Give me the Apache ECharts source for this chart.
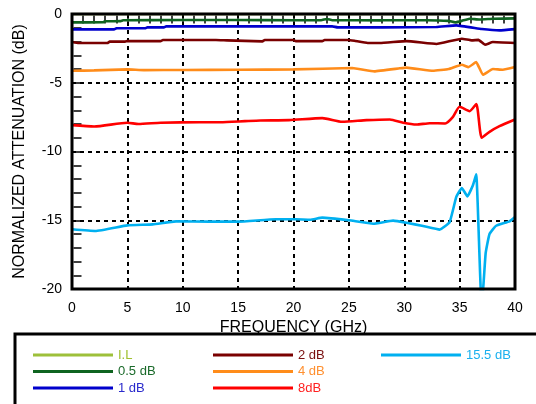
<!DOCTYPE html>
<html>
<head>
<meta charset="utf-8">
<script src="https://cdn.jsdelivr.net/npm/echarts@6/dist/echarts.min.js"></script>
<style>html,body{margin:0;padding:0;background:#fff}#c{width:536px;height:404px}</style>
</head>
<body>
<div id="c"></div>
<script>
const xTicks = [0, 5, 10, 15, 20, 25, 30, 35, 40];
const yTicks = [0, -5, -10, -15, -20];
const seriesNames = ['I.L', '0.5 dB', '1 dB', '2 dB', '4 dB', '8dB', '15.5 dB'];

const fIL = [0, 10, 20, 30, 40];
const vIL = [0, 0, 0, 0, 0];

const f05 = [0, 2.8, 3.0, 4.4, 4.6, 10, 15, 20, 22.5, 23, 23.5, 28, 32, 34, 34.6, 35.2, 35.9, 36.8, 38, 40];
const v05 = [-0.61, -0.6, -0.53, -0.52, -0.46, -0.44, -0.44, -0.45, -0.45, -0.36, -0.45, -0.46, -0.45, -0.5, -0.61, -0.5, -0.34, -0.4, -0.35, -0.32];

const f1 = [0, 3.8, 4.0, 6.6, 6.8, 8.3, 8.5, 15, 20, 23.5, 24, 28, 32.9, 34.7, 37, 38.6, 40];
const v1 = [-1.12, -1.12, -1.04, -1.04, -0.97, -0.97, -0.9, -0.9, -0.9, -0.9, -0.97, -0.97, -0.95, -0.83, -1.09, -1.19, -1.1];

const f2 = [0, 0.6, 3.2, 3.4, 4.8, 5.0, 8, 8.2, 13, 14, 17.2, 17.4, 20, 20.2, 22.6, 22.8, 24.9, 25.5, 26.7, 27.8, 30.2, 32.9, 35.2, 36.1, 36.7, 37.3, 38, 40];
const v2 = [-2.04, -2.11, -2.11, -2.01, -2.01, -1.97, -1.97, -1.89, -1.89, -1.92, -1.99, -1.89, -1.89, -1.97, -1.97, -1.89, -1.89, -1.95, -2.11, -2.11, -1.97, -2.18, -1.8, -1.92, -1.88, -2.23, -2.04, -2.11];

const f4 = [0, 2, 5, 6.5, 10, 15, 20, 25.3, 27.3, 29.6, 30.2, 32.6, 34, 35.2, 35.8, 36.5, 37.1, 38, 38.9, 40];
const v4 = [-4.13, -4.1, -4.03, -4.08, -4.07, -4.06, -4.03, -3.93, -4.17, -3.95, -3.9, -4.13, -4.0, -3.69, -3.86, -3.5, -4.42, -4.0, -4.05, -3.85];

const f8 = [0, 2, 5, 6, 8, 11.5, 13.4, 15.6, 17, 19.6, 22.6, 24.4, 26.6, 28.7, 29.9, 31.1, 32.3, 33.7, 34.4, 35, 35.9, 36.5, 37, 37.7, 38.6, 40];
const v8 = [-8.08, -8.18, -7.91, -8.0, -7.91, -7.87, -7.87, -7.79, -7.74, -7.72, -7.57, -7.84, -7.72, -7.67, -7.91, -8.04, -7.94, -7.96, -7.48, -6.75, -7.07, -6.55, -9.0, -8.57, -8.16, -7.67];

const f155 = [0, 2.1, 5, 7.3, 9.4, 12.4, 15, 18.4, 20.2, 21.5, 22.6, 25, 27.2, 29, 30.2, 31.7, 33.2, 34.1, 34.7, 35.2, 35.7, 36.2, 36.5, 36.95, 37.05, 37.35, 37.7, 38.3, 39.5, 40];
const v155 = [-15.66, -15.78, -15.37, -15.3, -15.08, -15.1, -15.1, -14.93, -14.93, -14.96, -14.81, -15.0, -15.25, -15.03, -15.18, -15.42, -15.68, -15.13, -13.3, -12.65, -13.26, -12.45, -11.65, -20.6, -20.6, -17.4, -16.0, -15.4, -15.08, -14.76];

const colors = ['#9dc03a', '#0f6420', '#0000cc', '#7a0000', '#ff8c1a', '#ff0000', '#00b0f0'];
const textColors = ['#a0c030', '#1a6a2a', '#2a2acc', '#7a1010', '#ff9030', '#ff2020', '#1ab0ee'];
const xs = [fIL, f05, f1, f2, f4, f8, f155];
const vs = [vIL, v05, v1, v2, v4, v8, v155];

const FONT = 'Liberation Sans, Arial, sans-serif';

function zip(a, b) { return a.map((x, i) => [x, b[i]]); }

const series = seriesNames.map((n, i) => ({
  name: n,
  type: 'line',
  xAxisIndex: 0,
  yAxisIndex: 0,
  data: zip(xs[i], vs[i]),
  showSymbol: false,
  smooth: i === 6 ? 0.12 : (i === 5 ? 0.2 : 0.1),
  z: 2,
  lineStyle: { color: colors[i], width: 2.6 },
  itemStyle: { color: colors[i] },
  clip: true,
  animation: false
}));

function legendFor(names, left) {
  return {
    orient: 'vertical',
    left: left,
    top: 348,
    padding: 0,
    itemWidth: 80,
    itemHeight: 3,
    itemGap: 2.5,
    icon: 'rect',
    selectedMode: false,
    textStyle: { fontFamily: FONT, fontSize: 13, lineHeight: 14 },
    data: names.map(n => ({ name: n, textStyle: { color: textColors[seriesNames.indexOf(n)] } }))
  };
}

const tickStyle = { show: true, inside: false, length: 4, interval: 0, lineStyle: { color: '#000', width: 1.5 } };

function tickAxis(pos, min, max) {
  return {
    type: 'value', min: min, max: max, interval: 1, position: pos, offset: -5.5,
    axisLine: { show: false }, axisLabel: { show: false },
    axisTick: tickStyle, splitLine: { show: false }
  };
}

const option = {
  animation: false,
  backgroundColor: '#fff',
  grid: { left: 72, right: 21, top: 14, bottom: 115, show: true, borderColor: '#000', borderWidth: 3, z: 10, backgroundColor: 'transparent' },
  legend: [
    legendFor(['I.L', '0.5 dB', '1 dB'], 33),
    legendFor(['2 dB', '4 dB', '8dB'], 213),
    legendFor(['15.5 dB'], 381)
  ],
  xAxis: [
    {
      type: 'value', min: xTicks[0], max: xTicks[xTicks.length - 1], interval: 5, position: 'bottom',
      name: 'FREQUENCY (GHz)', nameLocation: 'middle', nameGap: 24,
      nameTextStyle: { fontFamily: FONT, fontSize: 16, color: '#000' },
      axisLine: { show: false },
      axisTick: { show: false },
      axisLabel: { fontFamily: FONT, fontSize: 14, color: '#000', margin: 12 },
      splitLine: { show: true, lineStyle: { color: '#000', width: 2, type: [4, 4] } }
    },
    tickAxis('bottom', 0, 40),
    tickAxis('top', 0, 40)
  ],
  yAxis: [
    {
      type: 'value', min: yTicks[yTicks.length - 1], max: yTicks[0], interval: 5, position: 'left',
      name: 'NORMALIZED ATTENUATION (dB)', nameLocation: 'middle', nameGap: 44,
      nameTextStyle: { fontFamily: FONT, fontSize: 16, color: '#000' },
      axisLine: { show: false },
      axisTick: { show: false },
      axisLabel: { fontFamily: FONT, fontSize: 14, color: '#000', margin: 10 },
      splitLine: { show: true, lineStyle: { color: '#000', width: 2, type: [4, 4] } }
    },
    tickAxis('left', -20, 0),
    tickAxis('right', -20, 0)
  ],
  graphic: [
    { type: 'rect', shape: { x: 15, y: 334, width: 540, height: 90 }, style: { fill: 'none', stroke: '#000', lineWidth: 3 }, z: 100 }
  ],
  series: series
};

const chart = echarts.init(document.getElementById('c'), null, { renderer: 'canvas' });
chart.setOption(option);
</script>
</body>
</html>
